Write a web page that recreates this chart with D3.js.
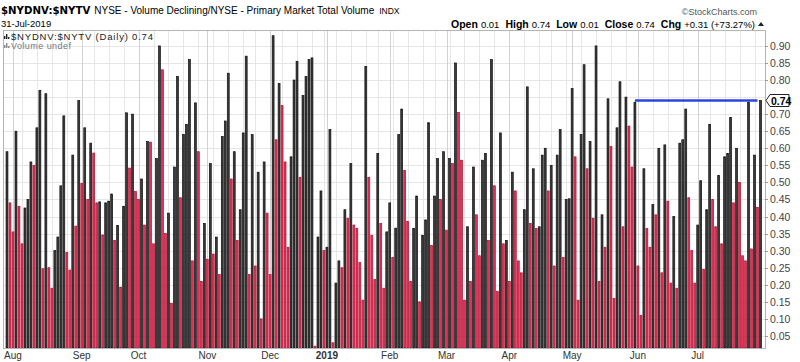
<!DOCTYPE html>
<html>
<head>
<meta charset="utf-8">
<script src="https://cdn.jsdelivr.net/npm/d3@7"></script>
<style>
  body { margin: 0; background: #fff; }
  svg { display: block; }
  text { font-family: "Liberation Sans", Arial, sans-serif; }
</style>
</head>
<body>
<svg id="chart"></svg>
<script>
// daily ratio, 30-Jul-2018 .. 31-Jul-2019
const values = [
  0.59, 0.44, 0.355, 0.65, 0.43, 0.32, 0.425, 0.45, 0.56, 0.55,
  0.66, 0.77, 0.247, 0.76, 0.25, 0.19, 0.30, 0.34, 0.49, 0.695,
  0.295, 0.243, 0.58, 0.372, 0.74, 0.497, 0.66, 0.45, 0.615, 0.586,
  0.44, 0.443, 0.346, 0.44, 0.445, 0.466, 0.33, 0.374, 0.193, 0.43,
  0.704, 0.542, 0.70, 0.473, 0.45, 0.51, 0.375, 0.62, 0.618, 0.32,
  0.57, 0.90, 0.83, 0.35, 0.41, 0.145, 0.545, 0.81, 0.455, 0.64,
  0.67, 0.86, 0.27, 0.733, 0.59, 0.21, 0.38, 0.275, 0.555, 0.29,
  0.34, 0.23, 0.635, 0.68, 0.82, 0.51, 0.59, 0.33, 0.42, 0.645,
  0.87, 0.23, 0.64, 0.255, 0.53, 0.10, 0.56, 0.41, 0.23, 0.93,
  0.625, 0.79, 0.725, 0.56, 0.31, 0.575, 0.80, 0.855, 0.515, 0.755,
  0.81, 0.86, 0.865, 0.02, 0.34, 0.475, 0.30, 0.31, 0.655, 0.03,
  0.205, 0.27, 0.25, 0.42, 0.395, 0.555, 0.375, 0.365, 0.265, 0.155,
  0.84, 0.515, 0.345, 0.215, 0.585, 0.38, 0.19, 0.355, 0.44, 0.28,
  0.366, 0.64, 0.715, 0.535, 0.385, 0.21, 0.365, 0.46, 0.15, 0.345,
  0.39, 0.675, 0.315, 0.46, 0.57, 0.45, 0.59, 0.36, 0.57, 0.555,
  0.85, 0.705, 0.565, 0.155, 0.37, 0.21, 0.545, 0.405, 0.285, 0.565,
  0.585, 0.33, 0.86, 0.49, 0.18, 0.645, 0.32, 0.33, 0.21, 0.53,
  0.475, 0.27, 0.235, 0.42, 0.78, 0.38, 0.54, 0.365, 0.37, 0.58,
  0.60, 0.475, 0.55, 0.255, 0.58, 0.655, 0.28, 0.45, 0.452, 0.775,
  0.575, 0.155, 0.64, 0.845, 0.54, 0.62, 0.395, 0.90, 0.21, 0.405,
  0.31, 0.745, 0.605, 0.16, 0.66, 0.795, 0.37, 0.75, 0.665, 0.545,
  0.735, 0.255, 0.11, 0.54, 0.365, 0.31, 0.435, 0.405, 0.60, 0.235,
  0.61, 0.445, 0.205, 0.40, 0.19, 0.615, 0.625, 0.715, 0.455, 0.30,
  0.205, 0.375, 0.505, 0.245, 0.42, 0.67, 0.45, 0.37, 0.52, 0.32,
  0.575, 0.585, 0.69, 0.44, 0.60, 0.50, 0.285, 0.27, 0.735, 0.305,
  0.58, 0.427, 0.74
];

const startDate = "2018-07-30";
const endDate = "2019-07-31";
const holidays = ["2018-09-03", "2018-11-22", "2018-12-05", "2018-12-25", "2019-01-01",
  "2019-01-21", "2019-02-18", "2019-04-19", "2019-05-27", "2019-07-04"];

const monthLabels = ["Aug", "Sep", "Oct", "Nov", "Dec", "2019", "Feb", "Mar", "Apr", "May", "Jun", "Jul"];
const yTicks = [0.05, 0.10, 0.15, 0.20, 0.25, 0.30, 0.35, 0.40, 0.45, 0.50,
  0.55, 0.60, 0.65, 0.70, 0.80, 0.85, 0.90];

const headerStats = [["Open", "0.01"], ["High", "0.74"], ["Low", "0.01"], ["Close", "0.74"], ["Chg", "+0.31 (+73.27%)"]];
const levelLine = { from: "2019-05-31", to: "2019-07-30", value: 0.74 };

const width = 800, height = 362;
const plot = { left: 3, right: 765, top: 30, bottom: 348 };

const svg = d3.select("#chart").attr("width", width).attr("height", height);
svg.append("rect").attr("width", width).attr("height", height).attr("fill", "#fff");

// trading days
const parse = d3.utcParse("%Y-%m-%d"), fmt = d3.utcFormat("%Y-%m-%d");
const days = d3.utcDay.range(parse(startDate), d3.utcDay.offset(parse(endDate), 1))
  .filter(d => d.getUTCDay() % 6 !== 0 && !holidays.includes(fmt(d)));

const data = values.map((v, i) => ({
  date: days[i], v, i,
  up: i === 0 || v >= values[i - 1]
}));

const x = d3.scaleBand().domain(d3.range(data.length)).range([5.5, 762]);
const cx = i => x(i) + x.bandwidth() / 2;
const y = d3.scaleLinear().domain([0, 0.9]).range([353, 353 - 0.9 * 341.2]);

// grid
const grid = svg.append("g");
grid.selectAll(".hg").data(yTicks.concat([0.75])).join("line")
  .attr("x1", plot.left).attr("x2", plot.right)
  .attr("y1", d => Math.round(y(d)) + 0.5).attr("y2", d => Math.round(y(d)) + 0.5)
  .attr("stroke", "#e6e6e6");

const weekStarts = data.filter((d, i) => i > 0 && +d3.utcMonday.floor(d.date) !== +d3.utcMonday.floor(data[i - 1].date));
const monthStarts = data.filter((d, i) => i > 0 && d.date.getUTCMonth() !== data[i - 1].date.getUTCMonth());

grid.selectAll(".wg").data(weekStarts).join("line")
  .attr("x1", d => Math.round(cx(d.i)) + 0.5)
  .attr("x2", d => Math.round(cx(d.i)) + 0.5)
  .attr("y1", plot.top).attr("y2", plot.bottom)
  .attr("stroke", "#e6e6e6");

grid.selectAll(".mg").data(monthStarts).join("line")
  .attr("x1", d => Math.round(cx(d.i)) + 0.5)
  .attr("x2", d => Math.round(cx(d.i)) + 0.5)
  .attr("y1", plot.top).attr("y2", plot.bottom)
  .attr("stroke", "#d2d2d2");

// bars
svg.append("g").selectAll("rect").data(data).join("rect")
  .attr("x", d => cx(d.i) - 0.95)
  .attr("width", 1.9)
  .attr("y", d => y(d.v))
  .attr("height", d => plot.bottom - y(d.v))
  .attr("fill", d => d.up ? "#3a3a3a" : "#e2305a")
  .attr("stroke", d => d.up ? "#111" : "#b5122f")
  .attr("stroke-width", 0.7);

// frame
svg.append("rect")
  .attr("x", plot.left + 0.5).attr("y", plot.top + 0.5)
  .attr("width", plot.right - plot.left).attr("height", plot.bottom - plot.top)
  .attr("fill", "none").attr("stroke", "#b4b4b4");

// level line
const i0 = days.findIndex(d => fmt(d) === levelLine.from);
const i1 = days.findIndex(d => fmt(d) === levelLine.to);
svg.append("line")
  .attr("x1", cx(i0)).attr("x2", cx(i1))
  .attr("y1", y(levelLine.value)).attr("y2", y(levelLine.value))
  .attr("stroke", "#2b45e0").attr("stroke-width", 2.6);

// y axis (right)
const ya = svg.append("g");
ya.selectAll("line").data(yTicks).join("line")
  .attr("x1", plot.right).attr("x2", plot.right + 3)
  .attr("y1", d => Math.round(y(d)) + 0.5).attr("y2", d => Math.round(y(d)) + 0.5)
  .attr("stroke", "#999");
ya.selectAll("text").data(yTicks).join("text")
  .attr("x", 770).attr("y", d => y(d) + 4)
  .attr("font-size", 10.5).attr("fill", "#444")
  .text(d => d3.format(".2f")(d));

// last value tag
const last = data[data.length - 1].v;
const ty = y(last);
svg.append("path")
  .attr("d", `M766,${ty} L770,${ty - 6} L789,${ty - 6} L789,${ty + 6} L770,${ty + 6} Z`)
  .attr("fill", "#fff").attr("stroke", "#222").attr("stroke-width", 1);
svg.append("text").attr("x", 771).attr("y", ty + 4)
  .attr("font-size", 10.5).attr("font-weight", "bold").attr("fill", "#000")
  .text(d3.format(".2f")(last));

// x axis labels: Aug label sits on the first August day
const labelDays = [data[2]].concat(monthStarts.filter(d => d.i > 2));
svg.append("g").selectAll("text").data(labelDays).join("text")
  .attr("x", d => cx(d.i)).attr("y", 359)
  .attr("text-anchor", "middle")
  .attr("font-size", 10).attr("fill", "#333")
  .attr("font-weight", (d, k) => monthLabels[k] === "2019" ? "bold" : "normal")
  .text((d, k) => monthLabels[k]);

// header
const h = svg.append("text").attr("x", 1).attr("y", 14).attr("fill", "#000");
h.append("tspan").attr("font-family", "'DejaVu Sans', Verdana, sans-serif")
  .attr("font-size", 10.2).attr("font-weight", "bold").text("$NYDNV:$NYTV");
h.append("tspan").attr("font-size", 10).attr("dx", 4).text("NYSE - Volume Declining/NYSE - Primary Market Total Volume");
h.append("tspan").attr("font-size", 8.5).attr("dx", 5).text("INDX");
svg.append("text").attr("x", 1).attr("y", 27).attr("font-size", 9.5).attr("fill", "#000").text("31-Jul-2019");

svg.append("text").attr("x", 757).attr("y", 15).attr("text-anchor", "end")
  .attr("font-size", 9).attr("fill", "#555").text("\u00a9StockCharts.com");

const st = svg.append("text").attr("x", 755).attr("y", 27.5).attr("text-anchor", "end").attr("fill", "#000");
headerStats.forEach(([k, v], j) => {
  st.append("tspan").attr("font-size", 10.5).attr("font-weight", "bold").attr("dx", j ? 6 : 0).text(k);
  st.append("tspan").attr("font-size", 9.5).attr("dx", 3).text(v);
});
svg.append("path").attr("d", "M758,26 L761,22 L764,26 Z").attr("fill", "#222");

// legend
const icon = (gx, gy, col) => {
  [[0, 3], [2, 1], [4, 4]].forEach(([dx, top]) => {
    svg.append("rect").attr("x", gx + dx).attr("y", gy + top).attr("width", 1.4)
      .attr("height", 6 - top).attr("fill", col);
  });
};
icon(4, 33, "#222");
icon(4, 42, "#888");
svg.append("text").attr("x", 11).attr("y", 39.5)
  .attr("font-family", "'DejaVu Sans Mono', monospace").attr("font-size", 9.5).attr("fill", "#222")
  .attr("textLength", 142).attr("lengthAdjust", "spacing")
  .text(`$NYDNV:$NYTV (Daily) ${d3.format(".2f")(last)}`);
svg.append("text").attr("x", 11).attr("y", 48.5)
  .attr("font-size", 9).attr("fill", "#777")
  .attr("textLength", 60).attr("lengthAdjust", "spacing")
  .text("Volume undef");
</script>
</body>
</html>
